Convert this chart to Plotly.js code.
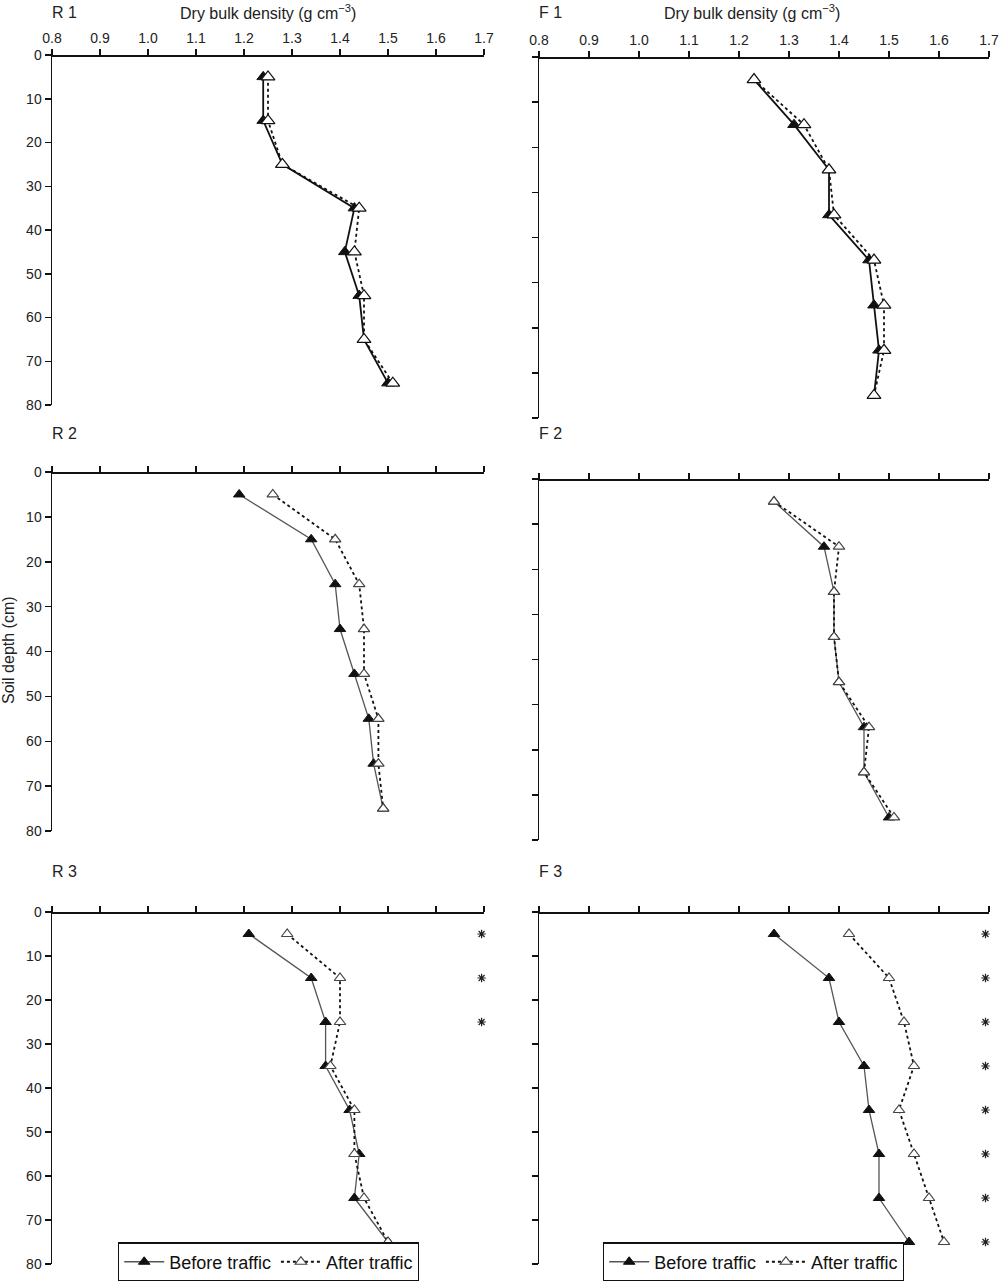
<!DOCTYPE html>
<html>
<head>
<meta charset="utf-8">
<script src="https://cdn.plot.ly/plotly-3.0.1.min.js"></script>
<style>
  body { margin: 0; background: #fff; }
  #plot { width: 1000px; height: 1282px; }
</style>
</head>
<body>
<div id="plot"></div>
<script>
// depth of each sample layer (cm)
var depth = [5, 15, 25, 35, 45, 55, 65, 75];

// dry bulk density (g cm-3)
var r1Before = [1.24, 1.24, 1.28, 1.43, 1.41, 1.44, 1.45, 1.50];
var r1After  = [1.25, 1.25, 1.28, 1.44, 1.43, 1.45, 1.45, 1.51];
var f1Before = [1.23, 1.31, 1.38, 1.38, 1.46, 1.47, 1.48, 1.47];
var f1After  = [1.23, 1.33, 1.38, 1.39, 1.47, 1.49, 1.49, 1.47];
var r2Before = [1.19, 1.34, 1.39, 1.40, 1.43, 1.46, 1.47, 1.49];
var r2After  = [1.26, 1.39, 1.44, 1.45, 1.45, 1.48, 1.48, 1.49];
var f2Before = [1.27, 1.37, 1.39, 1.39, 1.40, 1.45, 1.45, 1.50];
var f2After  = [1.27, 1.40, 1.39, 1.39, 1.40, 1.46, 1.45, 1.51];
var r3Before = [1.21, 1.34, 1.37, 1.37, 1.42, 1.44, 1.43, 1.50];
var r3After  = [1.29, 1.40, 1.40, 1.38, 1.43, 1.43, 1.45, 1.50];
var f3Before = [1.27, 1.38, 1.40, 1.45, 1.46, 1.48, 1.48, 1.54];
var f3After  = [1.42, 1.50, 1.53, 1.55, 1.52, 1.55, 1.58, 1.61];

// significant differences (asterisks at right edge)
var r2SigDepth = [5];
var r2SigX = [1.71];
var r3SigDepth = [5, 15, 25];
var r3SigX = [1.695, 1.695, 1.695];
var f3SigDepth = [5, 15, 25, 35, 45, 55, 65, 75];
var f3SigX = [1.693, 1.693, 1.693, 1.693, 1.693, 1.693, 1.693, 1.693];

var panelLabels = ['R 1', 'F 1', 'R 2', 'F 2', 'R 3', 'F 3'];
var xTicks = [0.8, 0.9, 1.0, 1.1, 1.2, 1.3, 1.4, 1.5, 1.6, 1.7];
var xTickText = ['0.8', '0.9', '1.0', '1.1', '1.2', '1.3', '1.4', '1.5', '1.6', '1.7'];

var font = 'Liberation Sans, Arial, sans-serif';

function before(x, n, top, legend) {
  return {
    x: x, y: depth, xaxis: 'x' + n, yaxis: 'y' + n,
    type: 'scatter', mode: 'lines+markers', name: 'Before traffic',
    showlegend: !!legend, legend: legend || 'legend',
    cliponaxis: false,
    line: {color: top ? '#111' : '#555', width: top ? 1.8 : 1.3},
    marker: {symbol: 'triangle-up', size: top ? 11 : 10, color: '#111',
             line: {color: '#111', width: 1}}
  };
}

function after(x, n, top, legend) {
  return {
    x: x, y: depth, xaxis: 'x' + n, yaxis: 'y' + n,
    type: 'scatter', mode: 'lines+markers', name: 'After traffic',
    showlegend: !!legend, legend: legend || 'legend',
    cliponaxis: false,
    line: {color: '#111', width: 1.8, dash: 'dot'},
    marker: {symbol: 'triangle-up', size: top ? 12 : 10, color: '#fff',
             line: {color: top ? '#111' : '#444', width: 1.2}}
  };
}

function sig(x, y, n) {
  return {
    x: x, y: y, xaxis: 'x' + n, yaxis: 'y' + n,
    type: 'scatter', mode: 'markers', showlegend: false, cliponaxis: false,
    marker: {symbol: 'asterisk-open', size: 7, color: '#222', line: {color: '#222', width: 1.2}}
  };
}

var data = [
  before(r1Before, 1, true), after(r1After, 1, true),
  before(f1Before, 2, true), after(f1After, 2, true),
  before(r2Before, 3, false), after(r2After, 3, false), sig(r2SigX, r2SigDepth, 3),
  before(f2Before, 4, false), after(f2After, 4, false),
  before(r3Before, 5, false, 'legend'), after(r3After, 5, false, 'legend'), sig(r3SigX, r3SigDepth, 5),
  before(f3Before, 6, false, 'legend2'), after(f3After, 6, false, 'legend2'), sig(f3SigX, f3SigDepth, 6)
];

function xax(dom, labels) {
  return {
    domain: dom, range: [0.8, 1.7], side: 'top', anchor: 'free',
    tickvals: xTicks, ticktext: xTickText, showticklabels: labels,
    ticks: 'outside', ticklen: 6, tickwidth: 1.5, tickcolor: '#111',
    showline: true, linecolor: '#111', linewidth: 1.5,
    showgrid: false, zeroline: false,
    tickfont: {family: font, size: 14, color: '#222'}
  };
}

function yax(dom, labels) {
  return {
    domain: dom, range: [80, 0], dtick: 10, tick0: 0, showticklabels: labels,
    ticks: 'outside', ticklen: 6, tickwidth: 1.5, tickcolor: '#111',
    showline: true, linecolor: '#111', linewidth: 1.5,
    showgrid: false, zeroline: false,
    tickfont: {family: font, size: 14, color: '#222'}
  };
}

var H = 1282;
function yd(top, bottom) { return [1 - bottom / H, 1 - top / H]; }

var xl = [0.052, 0.484];
var xr = [0.539, 0.989];

var layout = {
  width: 1000, height: 1282,
  margin: {l: 0, r: 0, t: 0, b: 0},
  paper_bgcolor: '#fff', plot_bgcolor: 'rgba(0,0,0,0)',
  font: {family: font, color: '#222'},
  xaxis: Object.assign(xax(xl, true), {position: yd(55, 405)[1]}),
  yaxis: Object.assign(yax(yd(55, 405), true), {anchor: 'x'}),
  xaxis2: Object.assign(xax(xr, true), {position: yd(57, 418)[1]}),
  yaxis2: Object.assign(yax(yd(57, 418), false), {anchor: 'x2'}),
  xaxis3: Object.assign(xax(xl, false), {position: yd(472, 831)[1]}),
  yaxis3: Object.assign(yax(yd(472, 831), true), {anchor: 'x3'}),
  xaxis4: Object.assign(xax(xr, false), {position: yd(479, 840)[1]}),
  yaxis4: Object.assign(yax(yd(479, 840), false), {anchor: 'x4'}),
  xaxis5: Object.assign(xax(xl, false), {position: yd(912, 1264)[1]}),
  yaxis5: Object.assign(yax(yd(912, 1264), true), {anchor: 'x5'}),
  xaxis6: Object.assign(xax(xr, false), {position: yd(912, 1264)[1]}),
  yaxis6: Object.assign(yax(yd(912, 1264), false), {anchor: 'x6'}),
  legend: {
    orientation: 'h', x: 0.118, xanchor: 'left', y: 0.0005, yanchor: 'bottom',
    bgcolor: '#fff', bordercolor: '#111', borderwidth: 1.2,
    font: {family: font, size: 18, color: '#111'}, itemwidth: 40
  },
  legend2: {
    orientation: 'h', x: 0.603, xanchor: 'left', y: 0.0005, yanchor: 'bottom',
    bgcolor: '#fff', bordercolor: '#111', borderwidth: 1.2,
    font: {family: font, size: 18, color: '#111'}, itemwidth: 40
  },
  annotations: []
};

var labelPos = [[64, 13], [550, 13], [64, 433], [550, 433], [64, 871], [550, 871]];
panelLabels.forEach(function (t, i) {
  layout.annotations.push({
    text: t, xref: 'paper', yref: 'paper', showarrow: false,
    x: labelPos[i][0] / 1000, y: 1 - labelPos[i][1] / H,
    xanchor: 'center', yanchor: 'middle',
    font: {family: font, size: 16, color: '#222'}
  });
});

[268, 752].forEach(function (cx) {
  layout.annotations.push({
    text: 'Dry bulk density (g cm<sup>−3</sup>)', xref: 'paper', yref: 'paper', showarrow: false,
    x: cx / 1000, y: 1 - 12 / H, xanchor: 'center', yanchor: 'middle',
    font: {family: font, size: 16, color: '#222'}
  });
});

layout.annotations.push({
  text: 'Soil depth (cm)', xref: 'paper', yref: 'paper', showarrow: false,
  x: 9 / 1000, y: 1 - 650 / H, xanchor: 'center', yanchor: 'middle', textangle: -90,
  font: {family: font, size: 16, color: '#222'}
});

Plotly.newPlot('plot', data, layout, {displayModeBar: false, staticPlot: true});
</script>
</body>
</html>
